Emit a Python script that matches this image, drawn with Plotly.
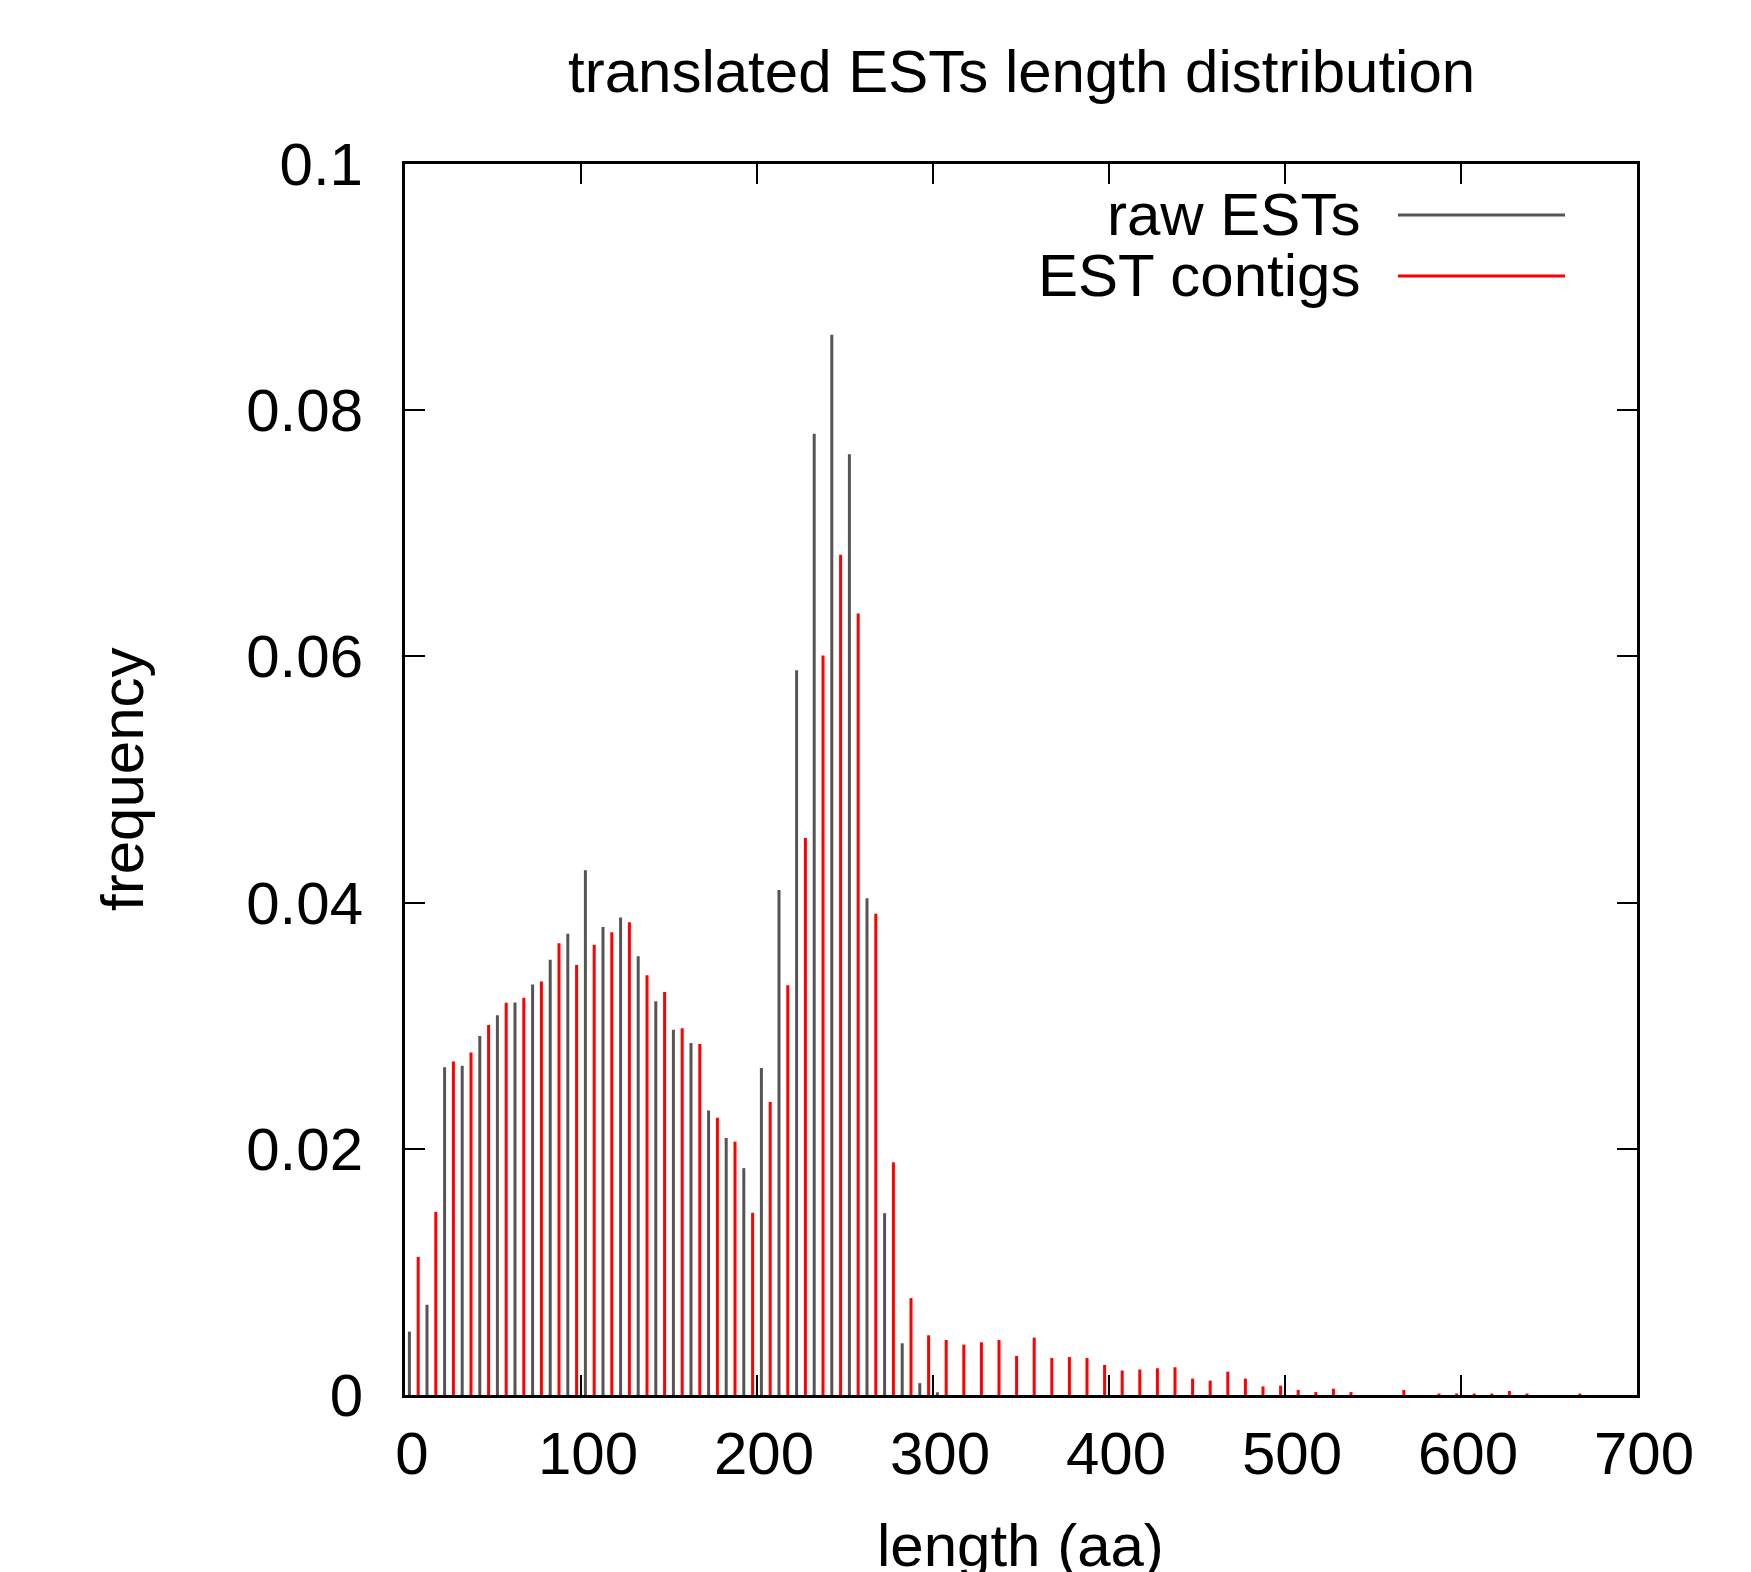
import plotly.graph_objects as go

# ---------------- data ----------------
raw_length = [2.5, 12.5, 22.5, 32.5, 42.5, 52.5, 62.5, 72.5, 82.5, 92.5,
              102.5, 112.5, 122.5, 132.5, 142.5, 152.5, 162.5, 172.5, 182.5, 192.5,
              202.5, 212.5, 222.5, 232.5, 242.5, 252.5, 262.5, 272.5, 282.5, 292.5,
              302.5]
raw_freq = [0.00515, 0.00733, 0.02663, 0.02674, 0.02916, 0.03084, 0.03189, 0.03334, 0.03535, 0.03747,
            0.04262, 0.03802, 0.03878, 0.03564, 0.03198, 0.02968, 0.02860, 0.02311, 0.02087, 0.01843,
            0.02657, 0.04102, 0.05888, 0.07808, 0.08613, 0.07642, 0.04036, 0.01477, 0.00420, 0.00096,
            0.00022]

contig_length = [7.5, 17.5, 27.5, 37.5, 47.5, 57.5, 67.5, 77.5, 87.5, 97.5,
                 107.5, 117.5, 127.5, 137.5, 147.5, 157.5, 167.5, 177.5, 187.5, 197.5,
                 207.5, 217.5, 227.5, 237.5, 247.5, 257.5, 267.5, 277.5, 287.5, 297.5,
                 307.5, 317.5, 327.5, 337.5, 347.5, 357.5, 367.5, 377.5, 387.5, 397.5,
                 407.5, 417.5, 427.5, 437.5, 447.5, 457.5, 467.5, 477.5, 487.5, 497.5,
                 507.5, 517.5, 527.5, 537.5, 567.5, 587.5, 597.5, 607.5, 617.5, 627.5,
                 637.5, 667.5]
contig_freq = [0.01122, 0.01488, 0.02710, 0.02782, 0.03006, 0.03186, 0.03227, 0.03360, 0.03669, 0.03494,
               0.03657, 0.03759, 0.03840, 0.03410, 0.03273, 0.02980, 0.02852, 0.02253, 0.02058, 0.01480,
               0.02381, 0.03328, 0.04525, 0.06008, 0.06825, 0.06348, 0.03909, 0.01890, 0.00787, 0.00485,
               0.00447, 0.00409, 0.00428, 0.00447, 0.00317, 0.00466, 0.00301, 0.00309, 0.00301, 0.00244,
               0.00199, 0.00207, 0.00217, 0.00225, 0.00133, 0.00117, 0.00190, 0.00133, 0.00070, 0.00076,
               0.00041, 0.00024, 0.00051, 0.00024, 0.00041, 0.00012, 0.00012, 0.00012, 0.00012, 0.00033,
               0.00012, 0.00012]

x_ticks = [0, 100, 200, 300, 400, 500, 600, 700]
y_ticks = [0, 0.02, 0.04, 0.06, 0.08, 0.1]
y_tick_labels = ["0", "0.02", "0.04", "0.06", "0.08", "0.1"]

GREY = "#555555"
RED = "#ff0000"
FONT = "Liberation Sans, Arial, Helvetica, sans-serif"
FS = 60


def impulses(xs, ys):
    px, py = [], []
    for x, y in zip(xs, ys):
        px += [x, x, None]
        py += [0, y, None]
    return px, py


fig = go.Figure()
rx, ry = impulses(raw_length, raw_freq)
cx, cy = impulses(contig_length, contig_freq)
fig.add_trace(go.Scatter(x=rx, y=ry, mode="lines", name="raw ESTs",
                         line=dict(color=GREY, width=3), showlegend=False))
fig.add_trace(go.Scatter(x=cx, y=cy, mode="lines", name="EST contigs",
                         line=dict(color=RED, width=3), showlegend=False))

W, H = 1751, 1572
L, R, T, B = 405, 1637, 164, 1395


def px2paper_x(px):
    return (px - L) / (R - L)


def px2paper_y(py):
    return (B - py) / (B - T)


axis_common = dict(showline=True, linewidth=3, linecolor="black", mirror="ticks",
                   ticks="inside", ticklen=20, tickwidth=2, tickcolor="black",
                   showgrid=False, zeroline=False,
                   tickfont=dict(family=FONT, size=FS, color="black"))

fig.update_xaxes(range=[0, 700], tickvals=x_ticks, ticktext=[str(v) for v in x_ticks],
                 ticklabelstandoff=4, ticklabelshift=7, **axis_common)
fig.update_yaxes(range=[0, 0.1], tickvals=y_ticks, ticktext=y_tick_labels,
                 ticklabelstandoff=27, **axis_common)

annotations = [
    dict(text="translated ESTs length distribution", x=0.5, y=px2paper_y(72),
         xref="paper", yref="paper", xanchor="center", yanchor="middle", showarrow=False,
         font=dict(family=FONT, size=FS, color="black")),
    dict(text="length (aa)", x=px2paper_x(1020), y=px2paper_y(1545),
         xref="paper", yref="paper", xanchor="center", yanchor="middle", showarrow=False,
         font=dict(family=FONT, size=FS, color="black")),
    dict(text="frequency", x=px2paper_x(123), y=px2paper_y(779),
         xref="paper", yref="paper", xanchor="center", yanchor="middle", showarrow=False,
         textangle=-90, font=dict(family=FONT, size=FS, color="black")),
    dict(text="raw ESTs", x=px2paper_x(1362), y=px2paper_y(214),
         xref="paper", yref="paper", xanchor="right", yanchor="middle", showarrow=False,
         font=dict(family=FONT, size=FS, color="black")),
    dict(text="EST contigs", x=px2paper_x(1362), y=px2paper_y(275),
         xref="paper", yref="paper", xanchor="right", yanchor="middle", showarrow=False,
         font=dict(family=FONT, size=FS, color="black")),
]

shapes = [
    dict(type="line", xref="paper", yref="paper",
         x0=px2paper_x(1398), x1=px2paper_x(1565), y0=px2paper_y(215), y1=px2paper_y(215),
         line=dict(color=GREY, width=3)),
    dict(type="line", xref="paper", yref="paper",
         x0=px2paper_x(1398), x1=px2paper_x(1565), y0=px2paper_y(276), y1=px2paper_y(276),
         line=dict(color=RED, width=3)),
]

fig.update_layout(width=W, height=H, margin=dict(l=L, r=W - R, t=T, b=H - B),
                  plot_bgcolor="white", paper_bgcolor="white",
                  annotations=annotations, shapes=shapes,
                  font=dict(family=FONT, size=FS, color="black"))

fig.write_html("out.html")
